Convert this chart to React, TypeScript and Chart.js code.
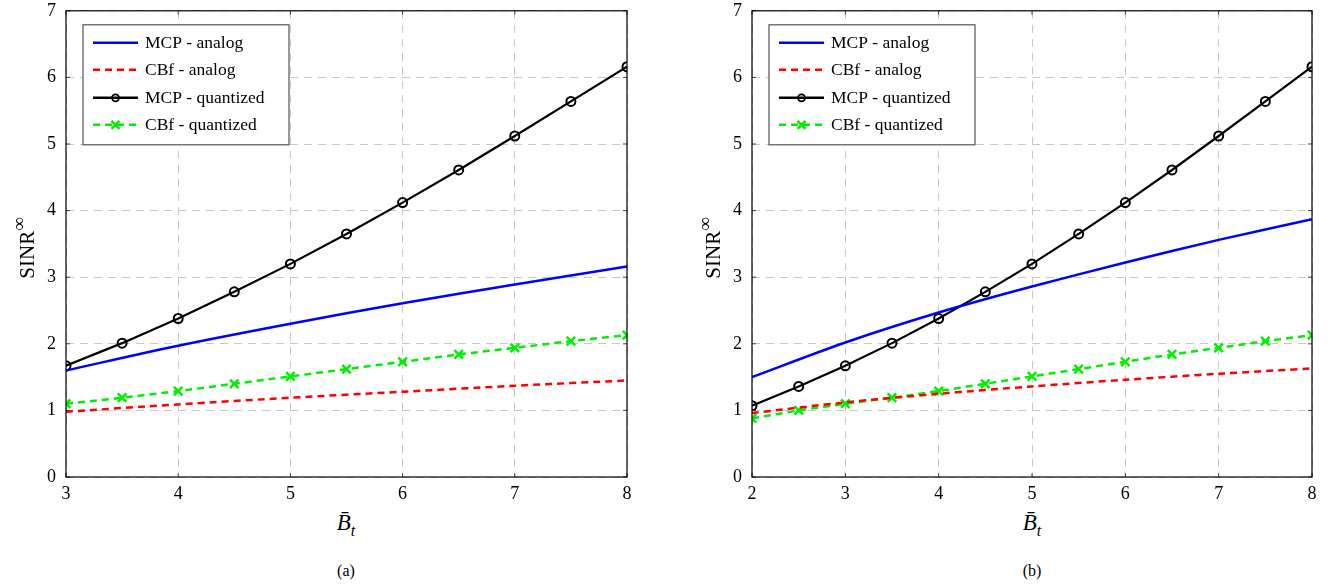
import React, { useEffect, useRef } from "react";
import { Chart, registerables } from "chart.js";

Chart.register(...registerables);

// ---- Data ----
const xQuantA = [3, 3.5, 4, 4.5, 5, 5.5, 6, 6.5, 7, 7.5, 8];
const xAnalogA = [3, 4, 5, 6, 7, 8];
const mcpAnalogA = [1.6, 1.97, 2.3, 2.61, 2.89, 3.16];
const cbfAnalogA = [0.98, 1.09, 1.19, 1.28, 1.37, 1.45];
const mcpQuantA = [1.67, 2.01, 2.38, 2.78, 3.2, 3.65, 4.12, 4.61, 5.12, 5.64, 6.16];
const cbfQuantA = [1.1, 1.19, 1.29, 1.4, 1.51, 1.62, 1.73, 1.84, 1.94, 2.04, 2.13];

const xQuantB = [2, 2.5, 3, 3.5, 4, 4.5, 5, 5.5, 6, 6.5, 7, 7.5, 8];
const xAnalogB = [2, 3, 4, 5, 6, 7, 8];
const mcpAnalogB = [1.5, 2.02, 2.47, 2.86, 3.22, 3.56, 3.87];
const cbfAnalogB = [0.96, 1.12, 1.25, 1.36, 1.46, 1.55, 1.63];
const mcpQuantB = [1.07, 1.36, 1.67, 2.01, 2.38, 2.78, 3.2, 3.65, 4.12, 4.61, 5.12, 5.64, 6.16];
const cbfQuantB = [0.88, 1.0, 1.1, 1.19, 1.29, 1.4, 1.51, 1.62, 1.73, 1.84, 1.94, 2.04, 2.13];

const seriesNames = ["MCP - analog", "CBf - analog", "MCP - quantized", "CBf - quantized"];
const yTicks = [0, 1, 2, 3, 4, 5, 6, 7];

const SERIF = "'Liberation Serif', 'DejaVu Serif', serif";
const BLUE = "#0000ff";
const RED = "#ff0000";
const BLACK = "#000000";
const GREEN = "#00ee00";

const pts = (xs: number[], ys: number[]) => xs.map((x, i) => ({ x, y: ys[i] }));

const frameAndLegend = {
  id: "frameAndLegend",
  afterDatasetsDraw(chart: any) {
    const { ctx, chartArea, scales } = chart;
    const { left, top, right, bottom } = chartArea;
    ctx.save();
    // small inward tick marks like pgfplots
    ctx.strokeStyle = "#444";
    ctx.lineWidth = 1;
    ctx.setLineDash([]);
    ctx.beginPath();
    scales.x.ticks.forEach((t: any) => {
      const px = scales.x.getPixelForValue(t.value);
      ctx.moveTo(px, bottom);
      ctx.lineTo(px, bottom - 4);
      ctx.moveTo(px, top);
      ctx.lineTo(px, top + 4);
    });
    scales.y.ticks.forEach((t: any) => {
      const py = scales.y.getPixelForValue(t.value);
      ctx.moveTo(left, py);
      ctx.lineTo(left + 4, py);
      ctx.moveTo(right, py);
      ctx.lineTo(right - 4, py);
    });
    ctx.stroke();
    ctx.strokeStyle = "#000";
    ctx.lineWidth = 1.2;
    ctx.strokeRect(left, top, right - left, bottom - top);
    const bx = left + 17;
    const by = top + 14;
    const bw = 206;
    const bh = 120;
    ctx.fillStyle = "#fff";
    ctx.fillRect(bx, by, bw, bh);
    ctx.strokeStyle = "#555";
    ctx.lineWidth = 1.2;
    ctx.strokeRect(bx, by, bw, bh);
    const rows = [18, 45, 73, 100];
    const styles = [
      { c: BLUE, dash: [] as number[], m: "" },
      { c: RED, dash: [7, 5], m: "" },
      { c: BLACK, dash: [] as number[], m: "circle" },
      { c: GREEN, dash: [7, 5], m: "cross" },
    ];
    ctx.font = `17.5px ${SERIF}`;
    ctx.textBaseline = "middle";
    rows.forEach((ry, i) => {
      const y = by + ry;
      const s = styles[i];
      ctx.strokeStyle = s.c;
      ctx.lineWidth = 2.5;
      ctx.setLineDash(s.dash);
      ctx.beginPath();
      ctx.moveTo(bx + 10, y);
      ctx.lineTo(bx + 55, y);
      ctx.stroke();
      ctx.setLineDash([]);
      const cx = bx + 32.5;
      if (s.m === "circle") {
        ctx.lineWidth = 1.8;
        ctx.beginPath();
        ctx.arc(cx, y, 3.5, 0, Math.PI * 2);
        ctx.stroke();
      } else if (s.m === "cross") {
        ctx.lineWidth = 2.5;
        ctx.beginPath();
        ctx.moveTo(cx - 4, y - 4);
        ctx.lineTo(cx + 4, y + 4);
        ctx.moveTo(cx + 4, y - 4);
        ctx.lineTo(cx - 4, y + 4);
        ctx.stroke();
      }
      ctx.fillStyle = "#000";
      ctx.fillText(seriesNames[i], bx + 62, y + 1);
    });
    ctx.restore();
  },
};

function Panel(props: {
  left: number;
  width: number;
  yAxisWidth: number;
  padRight: number;
  xMin: number;
  xs: number[];
  xa: number[];
  mcpA: number[];
  cbfA: number[];
  mcpQ: number[];
  cbfQ: number[];
}) {
  const ref = useRef<HTMLCanvasElement>(null);
  useEffect(() => {
    const ctx = ref.current!;
    const chart = new Chart(ctx, {
      type: "line",
      data: {
        datasets: [
          {
            label: seriesNames[0],
            data: pts(props.xa, props.mcpA),
            borderColor: BLUE,
            borderWidth: 2.5,
            pointRadius: 0,
            tension: 0.3,
          },
          {
            label: seriesNames[1],
            data: pts(props.xa, props.cbfA),
            borderColor: RED,
            borderWidth: 2.5,
            borderDash: [7, 5],
            pointRadius: 0,
            tension: 0.3,
          },
          {
            label: seriesNames[2],
            data: pts(props.xs, props.mcpQ),
            borderColor: BLACK,
            borderWidth: 2.2,
            pointStyle: "circle",
            pointRadius: 4.5,
            pointBorderWidth: 2,
            pointBorderColor: BLACK,
            pointBackgroundColor: "rgba(255,255,255,0)",
          },
          {
            label: seriesNames[3],
            data: pts(props.xs, props.cbfQ),
            borderColor: GREEN,
            borderWidth: 2.5,
            borderDash: [7, 5],
            pointStyle: "crossRot",
            pointRadius: 6,
            pointBorderWidth: 2.5,
            pointBorderColor: GREEN,
          },
        ],
      },
      options: {
        animation: false,
        responsive: false,
        maintainAspectRatio: false,
        layout: { padding: { left: 0, right: props.padRight, top: 0, bottom: 0 } },
        plugins: { legend: { display: false }, tooltip: { enabled: false } },
        scales: {
          x: {
            type: "linear",
            min: props.xMin,
            max: 8,
            afterFit: (s: any) => {
              s.height = 33;
            },
            ticks: {
              stepSize: 1,
              color: "#000",
              font: { family: SERIF, size: 18 },
              padding: 6,
            },
            grid: { color: "#c8c8c8", drawTicks: false, lineWidth: 1 },
            border: { display: false, dash: [8, 6] },
          },
          y: {
            type: "linear",
            min: 0,
            max: 7,
            afterFit: (s: any) => {
              s.width = props.yAxisWidth;
            },
            afterBuildTicks: (s: any) => {
              s.ticks = yTicks.map((v) => ({ value: v }));
            },
            ticks: {
              color: "#000",
              font: { family: SERIF, size: 18 },
              padding: 10,
            },
            grid: { color: "#c8c8c8", drawTicks: false, lineWidth: 1 },
            border: { display: false, dash: [8, 6] },
          },
        },
      },
      plugins: [frameAndLegend],
    });
    return () => chart.destroy();
  }, []);
  return (
    <canvas
      ref={ref}
      width={props.width}
      height={520}
      style={{ position: "absolute", left: props.left, top: -10, width: props.width, height: 520 }}
    />
  );
}

function XLabel({ cx }: { cx: number }) {
  return (
    <div
      style={{
        position: "absolute",
        left: cx - 40,
        width: 80,
        top: 510,
        textAlign: "center",
        fontFamily: SERIF,
        fontSize: 23,
        fontStyle: "italic",
      }}
    >
      B&#772;
      <sub style={{ fontSize: 16 }}>t</sub>
    </div>
  );
}

function YLabel({ x }: { x: number }) {
  return (
    <div
      style={{
        position: "absolute",
        left: x - 60,
        top: 235,
        width: 120,
        height: 26,
        textAlign: "center",
        fontFamily: SERIF,
        fontSize: 21,
        transform: "rotate(-90deg)",
        lineHeight: "26px",
      }}
    >
      SINR<sup style={{ fontSize: 19, position: "relative", top: -1 }}>&infin;</sup>
    </div>
  );
}

function Caption({ cx, text }: { cx: number; text: string }) {
  return (
    <div
      style={{
        position: "absolute",
        left: cx - 30,
        width: 60,
        top: 562,
        textAlign: "center",
        fontFamily: SERIF,
        fontSize: 16,
      }}
    >
      {text}
    </div>
  );
}

export default function App() {
  return (
    <div
      style={{
        position: "fixed",
        left: 0,
        top: 0,
        width: 1333,
        height: 587,
        background: "#fff",
        overflow: "hidden",
      }}
    >
      <Panel
        left={0}
        width={660}
        yAxisWidth={66}
        padRight={33}
        xMin={3}
        xs={xQuantA}
        xa={xAnalogA}
        mcpA={mcpAnalogA}
        cbfA={cbfAnalogA}
        mcpQ={mcpQuantA}
        cbfQ={cbfQuantA}
      />
      <Panel
        left={680}
        width={653}
        yAxisWidth={72}
        padRight={21}
        xMin={2}
        xs={xQuantB}
        xa={xAnalogB}
        mcpA={mcpAnalogB}
        cbfA={cbfAnalogB}
        mcpQ={mcpQuantB}
        cbfQ={cbfQuantB}
      />
      <YLabel x={20} />
      <YLabel x={706} />
      <XLabel cx={346} />
      <XLabel cx={1032} />
      <Caption cx={346} text="(a)" />
      <Caption cx={1032} text="(b)" />
    </div>
  );
}
